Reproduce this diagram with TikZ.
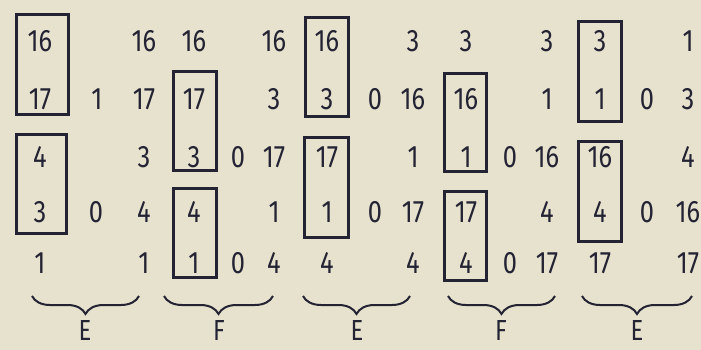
\documentclass[tikz,border=0pt]{standalone}
\usepackage{fontspec}
\setmainfont{Fira Sans}[FakeStretch=0.82]
\usetikzlibrary{decorations.pathreplacing}
\definecolor{paper}{RGB}{231,226,206}
\definecolor{ink}{RGB}{35,35,52}
\tikzset{
  num/.style={text=ink, font=\fontsize{31}{31}\selectfont, inner sep=0pt, anchor=center},
  lbl/.style={text=ink, font=\fontsize{29}{29}\selectfont, inner sep=0pt, anchor=center},
  boxn/.style={draw=ink, line width=3pt, inner sep=0pt},
  brc/.style={draw=ink, line width=2pt, decorate, decoration={brace, mirror, amplitude=18pt, aspect=0.5}},
}
\newcommand\numcolumn[3]{%
  \foreach \v [count=\r] in {#3} {%
    \pgfmathsetmacro\yy{{41,99,157,212,263}[\r-1]}%
    \node[num] (#1\r) at (#2,\yy) {\v};%
  }%
}
\begin{document}
\begin{tikzpicture}[x=1pt,y=-1pt]
\fill[paper] (0,0) rectangle (701,350);
\useasboundingbox (0,0) rectangle (701,350);
\clip (0,0) rectangle (701,350);
% group 1 (E)
\numcolumn{ga}{40}{16,17,4,3,1}
\node[num] (gb2) at (97,99) {1};
\node[num] (gb4) at (96,212) {0};
\numcolumn{gc}{144}{16,17,3,4,1}
% group 2 (F)
\numcolumn{gd}{194}{16,17,3,4,1}
\node[num] (ge3) at (238,157) {0};
\node[num] (ge5) at (238,263) {0};
\numcolumn{gf}{274}{16,3,17,1,4}
% group 3 (E)
\numcolumn{gg}{327}{16,3,17,1,4}
\node[num] (gh2) at (375,99) {0};
\node[num] (gh4) at (375,212) {0};
\numcolumn{gi}{413}{3,16,1,17,4}
% group 4 (F)
\numcolumn{gj}{466}{3,16,1,17,4}
\node[num] (gk3) at (510,157) {0};
\node[num] (gk5) at (510,263) {0};
\numcolumn{gl}{547}{3,1,16,4,17}
% group 5 (E)
\numcolumn{gm}{600}{3,1,16,4,17}
\node[num] (gn2) at (647,99) {0};
\node[num] (gn4) at (647,212) {0};
\numcolumn{go}{688}{1,3,4,16,17}
% boxes
\node[boxn, minimum width=52pt, minimum height=100pt] (bx1) at (42.5,64.5) {};
\node[boxn, minimum width=50pt, minimum height=99pt] (bx2) at (41.5,184) {};
\node[boxn, minimum width=43pt, minimum height=99pt] (bx3) at (195,121) {};
\node[boxn, minimum width=43pt, minimum height=89pt] (bx4) at (195,233) {};
\node[boxn, minimum width=43pt, minimum height=99pt] (bx5) at (327,67) {};
\node[boxn, minimum width=44pt, minimum height=100pt] (bx6) at (326.5,187.5) {};
\node[boxn, minimum width=42pt, minimum height=98pt] (bx7) at (465.5,122.5) {};
\node[boxn, minimum width=42pt, minimum height=89pt] (bx8) at (465.5,236) {};
\node[boxn, minimum width=43pt, minimum height=100pt] (bx9) at (600,71.5) {};
\node[boxn, minimum width=43pt, minimum height=100pt] (bx10) at (600,191.5) {};
% braces
\coordinate (b1s) at (32,296);  \coordinate (b1e) at (139,296);
\coordinate (b2s) at (164,296); \coordinate (b2e) at (273,296);
\coordinate (b3s) at (303,296); \coordinate (b3e) at (410,296);
\coordinate (b4s) at (448,296); \coordinate (b4e) at (555,296);
\coordinate (b5s) at (582,296); \coordinate (b5e) at (692,296);
\draw[brc] (b1s) -- (b1e);
\draw[brc] (b2s) -- (b2e);
\draw[brc] (b3s) -- (b3e);
\draw[brc] (b4s) -- (b4e);
\draw[brc] (b5s) -- (b5e);
\node[lbl] (l1) at (85,331) {E};
\node[lbl] (l2) at (219,331) {F};
\node[lbl] (l3) at (357,331) {E};
\node[lbl] (l4) at (501,331) {F};
\node[lbl] (l5) at (637,331) {E};
\end{tikzpicture}
\end{document}
